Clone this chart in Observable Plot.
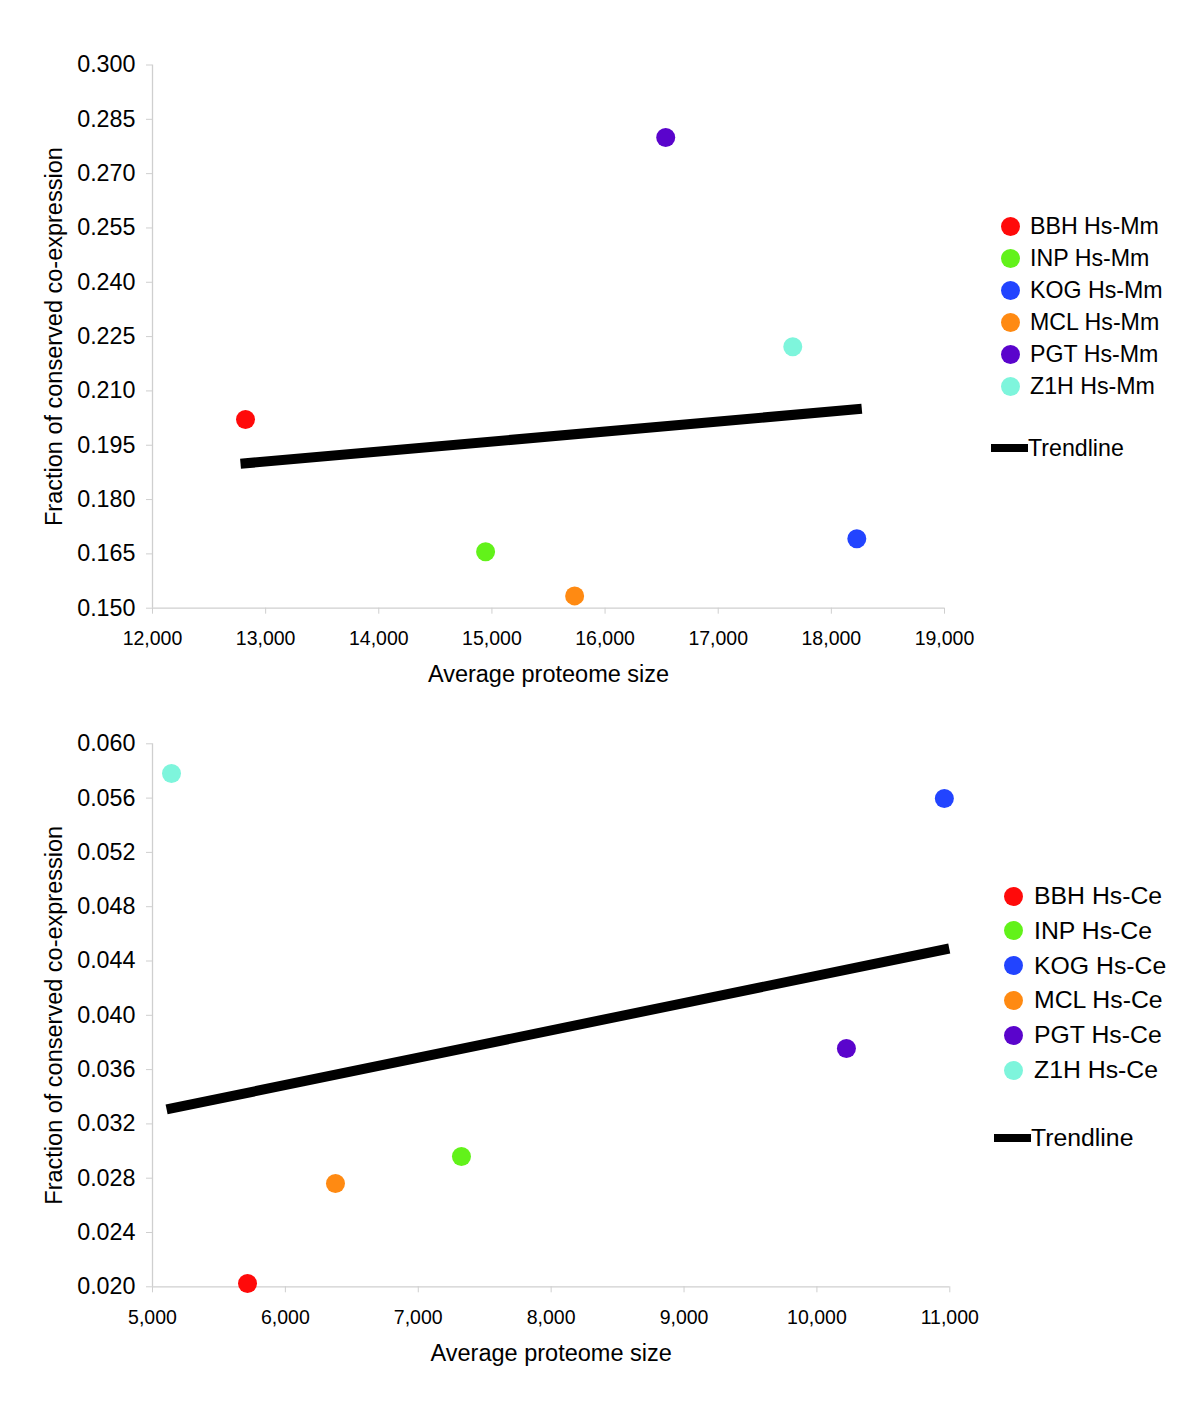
<!DOCTYPE html>
<html>
<head>
<meta charset="utf-8">
<script src="https://cdn.jsdelivr.net/npm/d3@7"></script>
<script src="https://cdn.jsdelivr.net/npm/@observablehq/plot@0.6"></script>
<style>
  body { margin: 0; background: #fff; font-family: "Liberation Sans", Arial, Helvetica, sans-serif; }
  #wrap { position: relative; width: 1200px; height: 1425px; overflow: hidden; background: #fff; }
  .chart { position: absolute; left: 0; }
  .legend-item { position: absolute; height: 0; display: flex; align-items: center; white-space: nowrap; color: #000; font-size: 24px; }
  .sw { width: 19px; height: 19px; border-radius: 50%; flex: none; }
  .tl { width: 37px; height: 8px; background: #000; flex: none; }
</style>
</head>
<body>
<div id="wrap"></div>
<script>
// ---- data ----
const methods = ["BBH", "INP", "KOG", "MCL", "PGT", "Z1H"];
const methodColors = ["#ff0a0a", "#62f21a", "#2244ff", "#ff8a12", "#5a04cc", "#7ef5dc"];

// Top chart: Hs-Mm
const mmSize = [12822, 14944, 18225, 15731, 16536, 17659];
const mmFraction = [0.2021, 0.1656, 0.1692, 0.1534, 0.2800, 0.2222];
const mmXTicks = [12000, 13000, 14000, 15000, 16000, 17000, 18000, 19000];
const mmYTicks = [0.150, 0.165, 0.180, 0.195, 0.210, 0.225, 0.240, 0.255, 0.270, 0.285, 0.300];

// Bottom chart: Hs-Ce
const ceSize = [5715, 7325, 10959, 6377, 10222, 5143];
const ceFraction = [0.02024, 0.0296, 0.05597, 0.02761, 0.03756, 0.05781];
const ceXTicks = [5000, 6000, 7000, 8000, 9000, 10000, 11000];
const ceYTicks = [0.020, 0.024, 0.028, 0.032, 0.036, 0.040, 0.044, 0.048, 0.052, 0.056, 0.060];

const xTitle = "Average proteome size";
const yTitle = "Fraction of conserved co-expression";
const trendLabel = "Trendline";

// ---- chart builder ----
function chart({sizes, fractions, xTicks, yTicks, height, marginTop, marginBottom, marginRight}) {
  const data = methods.map((m, i) => ({method: m, size: sizes[i], fraction: fractions[i]}));
  const xDomain = [xTicks[0], xTicks[xTicks.length - 1]];
  const yDomain = [yTicks[0], yTicks[yTicks.length - 1]];
  const axisGray = "#cfcfcf";
  return Plot.plot({
    width: 1200,
    height,
    marginLeft: 152,
    marginRight,
    marginTop,
    marginBottom,
    style: {fontFamily: '"Liberation Sans", Arial, Helvetica, sans-serif', background: "white", color: "black", overflow: "visible"},
    x: {domain: xDomain},
    y: {domain: yDomain},
    color: {domain: methods, range: methodColors},
    marks: [
      Plot.ruleX([xDomain[0]], {stroke: axisGray, strokeWidth: 1.3}),
      Plot.ruleY([yDomain[0]], {stroke: axisGray, strokeWidth: 1.3}),
      Plot.axisX({ticks: xTicks, tickFormat: d3.format(","), tickSize: 6, tickPadding: 17, stroke: axisGray, fill: "black", fontSize: 19.5, label: null}),
      Plot.axisY({ticks: yTicks, tickFormat: d3.format(".3f"), tickSize: 6, tickPadding: 11, stroke: axisGray, fill: "black", fontSize: 23.3, label: null}),
      Plot.text([xTitle], {text: d => d, frameAnchor: "bottom", lineAnchor: "bottom", dy: 74, fontSize: 23.5, fill: "black"}),
      Plot.text([yTitle], {text: d => d, frameAnchor: "left", textAnchor: "middle", rotate: -90, dx: -98, fontSize: 23.5, fill: "black"}),
      Plot.linearRegressionY(data, {x: "size", y: "fraction", stroke: "black", strokeWidth: 10, ci: 0, strokeLinecap: "square"}),
      Plot.dot(data, {x: "size", y: "fraction", fill: "method", r: 9.5})
    ]
  });
}

const wrap = document.getElementById("wrap");

const top1 = chart({sizes: mmSize, fractions: mmFraction, xTicks: mmXTicks, yTicks: mmYTicks,
  height: 700, marginTop: 64.5, marginBottom: 92.3, marginRight: 256});
top1.classList.add("chart");
top1.style.top = "0px";
wrap.appendChild(top1);

const bot1 = chart({sizes: ceSize, fractions: ceFraction, xTicks: ceXTicks, yTicks: ceYTicks,
  height: 725, marginTop: 43.3, marginBottom: 138.7, marginRight: 250.7});
bot1.classList.add("chart");
bot1.style.top = "700px";
wrap.appendChild(bot1);

// ---- legends (HTML) ----
function legend({suffix, dotX, firstY, step, gap, trendX, trendY, fontSize}) {
  methods.forEach((m, i) => {
    const it = document.createElement("div");
    it.className = "legend-item";
    it.style.left = (dotX - 9.5) + "px";
    it.style.top = (firstY + step * i) + "px";
    it.style.fontSize = fontSize + "px";
    const sw = document.createElement("div");
    sw.className = "sw";
    sw.style.background = methodColors[i];
    const tx = document.createElement("span");
    tx.style.marginLeft = gap + "px";
    tx.textContent = m + " " + suffix;
    it.appendChild(sw); it.appendChild(tx);
    wrap.appendChild(it);
  });
  const t = document.createElement("div");
  t.className = "legend-item";
  t.style.left = trendX + "px";
  t.style.top = trendY + "px";
  t.style.fontSize = fontSize + "px";
  const ln = document.createElement("div");
  ln.className = "tl";
  const tx = document.createElement("span");
  tx.textContent = trendLabel;
  t.appendChild(ln); t.appendChild(tx);
  wrap.appendChild(t);
}
legend({suffix: "Hs-Mm", dotX: 1010, firstY: 226, step: 32, gap: 10.5, trendX: 991, trendY: 448, fontSize: 23.2});
legend({suffix: "Hs-Ce", dotX: 1013, firstY: 896, step: 34.8, gap: 11.5, trendX: 994, trendY: 1138, fontSize: 24.8});
</script>
</body>
</html>
